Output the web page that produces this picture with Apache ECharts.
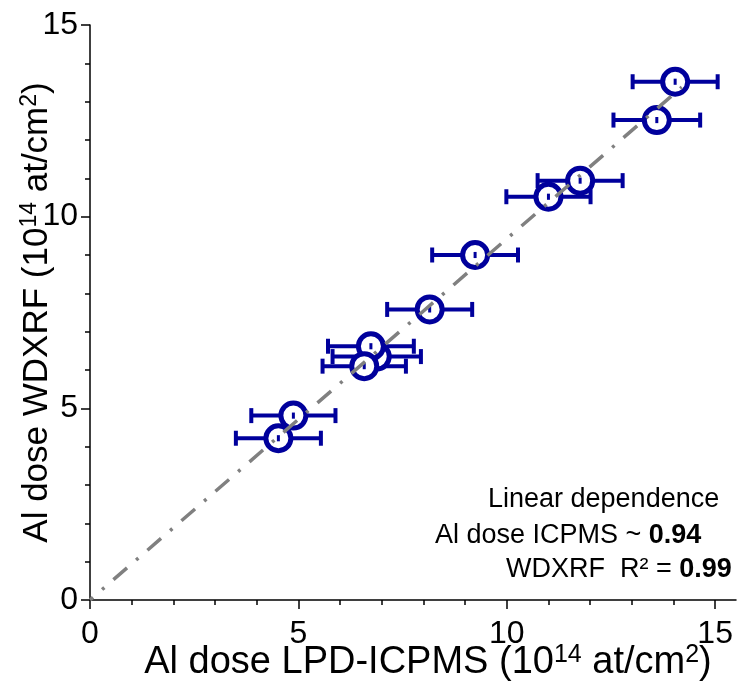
<!DOCTYPE html>
<html>
<head>
<meta charset="utf-8">
<script src="https://cdn.jsdelivr.net/npm/echarts@6/dist/echarts.min.js"></script>
<style>
html,body{margin:0;padding:0;background:#fff;}
#chart{width:739px;height:683px;}
</style>
</head>
<body>
<div id="chart"></div>
<script>
// Data (ordered as drawn)
const xVals = [14.04, 13.60, 11.76, 11.00, 9.24, 8.15, 6.88, 6.74, 6.58, 4.88, 4.52];
const yVals = [13.52, 12.52, 10.94, 10.52, 9.00, 7.58, 6.35, 6.62, 6.10, 4.81, 4.22];
const xErr  = [1.02, 1.04, 1.02, 1.01, 1.03, 1.02, 1.06, 1.03, 1.00, 1.01, 1.02];
const yErr  = [0.08, 0.08, 0.08, 0.08, 0.08, 0.08, 0.08, 0.08, 0.08, 0.08, 0.08];
const fitLine = [[0, 0], [14.2, 13.38]];
const majorTicks = [0, 5, 10, 15];
const minorTicksX = [1, 2, 3, 4, 6, 7, 8, 9, 11, 12, 13, 14];

const BLUE = '#00009c';
const FONT = 'Liberation Sans, Arial, sans-serif';

const errData = xVals.map((x, i) => [x, yVals[i], xErr[i]]);
const yErrData = xVals.map((x, i) => [x, yVals[i], yErr[i]]);
const pts = xVals.map((x, i) => [x, yVals[i]]);

const chart = echarts.init(document.getElementById('chart'), null, {renderer: 'canvas'});

function supRich(size) {
  return {sup: {fontSize: size, fontFamily: FONT, color: '#000', verticalAlign: 'top', lineHeight: size}};
}

chart.setOption({
  animation: false,
  backgroundColor: '#fff',
  grid: {left: 90, right: 3, top: 25, bottom: 83, containLabel: false, outerBoundsMode: 'none'},
  xAxis: [{
    type: 'value', min: 0, max: 15.5, interval: 5,
    position: 'bottom',
    name: 'Al dose LPD-ICPMS (10{sup|14} at/cm{sup|2})',
    nameLocation: 'middle', nameGap: 43, nameMoveOverlap: false,
    nameTextStyle: {fontSize: 38, fontFamily: FONT, color: '#000', lineHeight: 40, padding: [0, 0, 0, 30], rich: supRich(25)},
    axisLine: {show: true, lineStyle: {color: '#000', width: 1.5}},
    axisTick: {show: true, length: 9, lineStyle: {color: '#000', width: 1.5}, customValues: majorTicks},
    axisLabel: {fontSize: 32, fontFamily: FONT, color: '#000', margin: 18, customValues: majorTicks},
    splitLine: {show: false}
  }, {
    type: 'value', min: 0, max: 15.5, interval: 5,
    position: 'bottom',
    axisLine: {show: false},
    axisTick: {show: true, length: 5, lineStyle: {color: '#000', width: 1.5}, customValues: minorTicksX},
    axisLabel: {show: false},
    splitLine: {show: false}
  }],
  yAxis: {
    type: 'value', min: 0, max: 15, interval: 5,
    name: 'Al dose WDXRF (10{sup|14} at/cm{sup|2})',
    nameLocation: 'middle', nameGap: 34, nameMoveOverlap: false,
    nameTextStyle: {fontSize: 35, fontFamily: FONT, color: '#000', lineHeight: 38, rich: supRich(23)},
    axisLine: {show: true, lineStyle: {color: '#000', width: 1.5}},
    axisTick: {show: true, length: 9, lineStyle: {color: '#000', width: 1.5}},
    minorTick: {show: true, splitNumber: 5, length: 5, lineStyle: {color: '#000', width: 1.5}},
    axisLabel: {fontSize: 32, fontFamily: FONT, color: '#000', margin: 12},
    splitLine: {show: false}
  },
  series: [
    {
      type: 'custom', z: 1, xAxisIndex: 0,
      data: errData,
      encode: {x: 0, y: 1},
      renderItem: function (params, api) {
        const x = api.value(0), y = api.value(1), e = api.value(2);
        const p1 = api.coord([x - e, y]);
        const p2 = api.coord([x + e, y]);
        const h = 7.5;
        const st = {stroke: BLUE, lineWidth: 4};
        return {type: 'group', children: [
          {type: 'line', shape: {x1: p1[0], y1: p1[1], x2: p2[0], y2: p2[1]}, style: st},
          {type: 'line', shape: {x1: p1[0], y1: p1[1] - h, x2: p1[0], y2: p1[1] + h}, style: st},
          {type: 'line', shape: {x1: p2[0], y1: p2[1] - h, x2: p2[0], y2: p2[1] + h}, style: st}
        ]};
      }
    },
    {
      type: 'scatter', z: 2, xAxisIndex: 0,
      data: pts,
      symbol: 'circle', symbolSize: 25,
      itemStyle: {color: '#fff', borderColor: BLUE, borderWidth: 5, opacity: 1}
    },
    {
      type: 'custom', z: 3, xAxisIndex: 0,
      data: yErrData,
      encode: {x: 0, y: 1},
      renderItem: function (params, api) {
        const x = api.value(0), y = api.value(1), e = api.value(2);
        const p1 = api.coord([x, y - e]);
        const p2 = api.coord([x, y + e]);
        return {type: 'line', shape: {x1: p1[0], y1: p1[1], x2: p2[0], y2: p2[1]}, style: {stroke: BLUE, lineWidth: 3}};
      }
    },
    {
      type: 'line', z: 4, xAxisIndex: 0,
      data: fitLine,
      symbol: 'none',
      lineStyle: {color: '#808080', width: 3.5, type: [18, 12, 3, 12], dashOffset: 14}
    }
  ],
  graphic: [
    {type: 'text', z: 10, style: {text: 'Linear dependence', x: 488, y: 500, verticalAlign: 'middle', font: '27px ' + FONT, fill: '#000'}},
    {type: 'text', z: 10, style: {text: '{n|Al dose ICPMS ~ }{b|0.94}', x: 435, y: 536, verticalAlign: 'middle', rich: {n: {font: '27px ' + FONT, fill: '#000'}, b: {font: 'bold 27px ' + FONT, fill: '#000'}}}},
    {type: 'text', z: 10, style: {text: '{n|WDXRF  R² = }{b|0.99}', x: 506, y: 570, verticalAlign: 'middle', rich: {n: {font: '27px ' + FONT, fill: '#000'}, b: {font: 'bold 27px ' + FONT, fill: '#000'}}}}
  ]
});
</script>
</body>
</html>
